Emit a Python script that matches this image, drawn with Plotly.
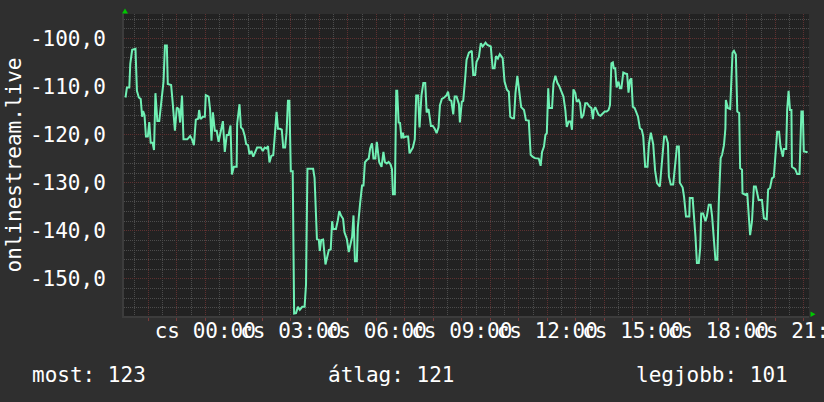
import plotly.graph_objects as go

# ---- data (time in minutes relative to 00:00, value in dB-like units) ----
minutes = [
    -168, -165, -160, -158, -154, -147, -144, -140, -136, -133, -131, -128, -125, -121, -118, -115, -111, -108,
    -105, -101, -97, -93, -88, -85, -81, -79, -72, -69, -64, -60, -56, -53, -49, -46, -38, -32, -28, -24, -20,
    -15, -13, -10, -5, -1, 1, 7, 10, 13, 16, 20, 24, 28, 32, 37, 41, 45, 49, 53, 56, 60, 66,
    67, 72, 75, 79, 83, 86, 90, 93, 97, 101, 105, 109, 117, 121, 125, 129, 132, 135, 139, 143, 146, 150, 153,
    157, 161, 164, 168, 171, 174, 177, 180, 184, 187, 191, 195, 199, 204, 209, 212, 215, 227, 230, 235, 239,
    241, 244, 248, 253, 257, 260, 264, 267, 269, 275, 279, 282, 286, 290, 293, 298, 302,
    309, 312, 315, 319, 321, 326, 330, 333, 336, 340, 344, 347, 351, 354, 358, 361, 364, 366, 371, 375, 378,
    382, 386, 390, 393, 395, 399, 402, 404, 407, 410, 413, 416, 418, 423, 427, 430, 434, 437, 441, 444, 448,
    451, 455, 459, 463, 466, 470, 475, 479, 483, 487, 491, 494, 498, 503, 508, 511, 514, 518, 522, 525, 529,
    534, 536, 540, 543, 547,
    550, 555, 561, 564, 568, 571, 576, 580, 584, 590, 594, 601, 605, 609, 612, 616, 620, 626, 630, 635, 639,
    642, 646, 650, 653, 657, 661, 665, 671, 675, 681, 685, 689, 694, 702, 706, 709, 713, 716, 719, 722, 724,
    730, 733, 737, 741, 745, 750, 754, 758, 761, 765, 769, 772, 775, 779, 782, 786, 789, 792, 796, 800, 804,
    808, 813, 816, 818, 821, 824, 828, 832, 837, 841, 845, 849, 852, 855, 858, 860, 863, 866, 870, 873, 876,
    880, 884, 888, 891, 894, 897, 900, 904, 908, 911, 915, 919, 922, 926, 931, 934, 938, 943, 947, 951, 957,
    962, 966, 970, 974, 976, 980, 985, 990, 993, 997, 999, 1005, 1008, 1012, 1019, 1020, 1026, 1032, 1035,
    1039, 1042, 1044, 1048, 1053, 1056, 1060, 1064, 1067, 1071, 1074, 1078, 1081, 1085, 1088, 1092, 1095,
    1096, 1100, 1105, 1107, 1110, 1113, 1117, 1120, 1124, 1126, 1130, 1131, 1137, 1141, 1144, 1147, 1151,
    1155, 1159, 1165, 1172, 1176, 1182, 1185, 1189, 1193, 1197, 1200, 1202, 1204, 1208, 1211, 1216, 1218,
    1223, 1225, 1228, 1231, 1234, 1235, 1242, 1246, 1251, 1252, 1255, 1258, 1260, 1266, 1268,
]
values = [
    -112.3, -110.2, -110.2, -105.3, -102.4, -102.2, -110.9, -112.3, -112.6, -116.3, -115.1, -116.0, -120.4,
    -120.4, -117.4, -121.7, -121.7, -123.2, -111.4, -117.2, -117.2, -114.0, -109.0, -101.5, -101.5, -109.5,
    -109.7, -113.0, -119.2, -114.4, -114.7, -117.5, -111.9, -121.0, -121.0, -120.3, -121.0, -122.2, -116.9,
    -116.7, -114.9, -116.8, -116.3, -116.3, -111.8, -112.1, -114.7, -121.3, -115.4, -119.2, -119.2, -121.5,
    -119.2, -117.2, -123.6, -120.1, -120.1, -118.1, -128.3, -126.7, -126.7,
    -117.8, -113.7, -118.5, -118.9, -120.3, -122.0, -122.2, -124.1, -123.4, -124.6, -123.8, -122.7, -122.7,
    -123.4, -122.7, -122.9, -122.4, -125.8, -124.4, -124.3, -120.6, -115.3, -118.8, -118.8, -119.0, -122.7,
    -122.7, -119.6, -113.0, -113.0, -127.6, -127.6, -157.2, -157.1, -155.8, -156.4, -155.8, -155.8, -151.2,
    -127.1, -127.1, -129.0, -141.7, -141.9, -144.2, -141.9, -141.8, -147.0, -145.3, -144.0, -143.9, -138.0,
    -139.6, -139.6, -137.8, -135.9, -136.9, -137.5, -140.3, -141.7, -144.4,
    -141.3, -136.8, -146.3, -146.3, -139.4, -134.2, -130.6, -130.6, -125.8, -125.3, -125.0, -122.9, -121.8,
    -125.0, -125.0, -121.5, -123.8, -125.7, -126.7, -123.6, -125.7, -126.0, -125.7, -126.2, -127.2, -132.4,
    -132.4, -110.9, -110.9, -117.5, -117.6, -120.8, -119.6, -120.6, -120.4, -120.4, -123.9, -123.2, -122.7,
    -121.0, -111.9, -111.9, -118.5, -111.9, -109.3, -109.3, -115.4, -114.7, -118.2, -118.2, -118.8, -119.7,
    -118.5, -113.9, -112.6, -112.3, -111.8, -111.1, -112.8, -113.0, -115.8, -112.1, -112.1, -113.7, -117.5,
    -113.2, -113.0, -108.5,
    -104.5, -103.0, -102.6, -107.6, -107.6, -104.9, -103.9, -101.0, -101.7, -100.9, -101.4, -101.7, -106.2,
    -106.2, -103.7, -104.2, -103.3, -104.1, -109.0, -110.7, -111.1, -116.3, -116.6, -116.6, -111.4, -107.8,
    -111.8, -114.3, -114.9, -117.0, -117.1, -124.2, -124.6, -124.9, -125.0, -126.5, -123.6, -122.5, -120.1,
    -119.7, -110.4, -114.5, -114.5, -109.4, -107.8, -109.2, -109.9, -111.1, -112.1, -114.9, -118.4, -117.3,
    -117.3, -119.0, -110.6, -111.4, -113.2, -112.8, -113.5, -116.6, -115.9, -113.5, -113.5, -114.1, -114.5,
    -116.8, -114.9, -114.3, -115.2, -115.9, -116.1, -115.6, -115.2, -115.2, -114.9, -113.9, -105.2, -105.0,
    -106.2, -106.2, -110.2, -109.0, -110.4, -110.4, -107.1, -107.3, -107.4, -111.3, -108.7, -108.3, -114.2,
    -114.5, -115.6, -116.3, -118.7, -119.0, -120.4, -126.7, -126.7, -122.0, -119.6, -122.0, -127.5, -130.1,
    -130.8, -125.0, -120.4, -120.4, -121.8, -128.7, -130.4, -130.4, -125.9, -122.5, -122.5, -130.0, -131.0,
    -133.0, -137.0, -137.0, -133.2, -133.2, -141.2, -146.7, -146.7, -143.5, -136.4, -136.4, -138.0, -137.0,
    -134.6, -134.6, -137.0, -142.5, -146.0, -146.0, -134.3, -124.9, -124.2, -122.2, -118.7, -112.8, -114.5,
    -114.7, -108.7, -103.0, -102.6, -103.4, -115.2, -115.5, -127.0, -127.3, -132.2, -132.5, -132.2, -136.7,
    -140.9, -138.0, -130.8, -130.8, -133.6, -133.6, -137.4, -137.6, -131.4, -131.1, -129.1, -128.8, -124.6,
    -121.8, -119.4, -119.4, -122.5, -124.6, -123.0, -123.0, -114.9, -110.9, -114.9, -114.9, -126.7, -127.2,
    -128.2, -128.2, -123.8, -115.2, -115.2, -123.5, -123.6, -123.6,
]

series_name = "onlinestream.live"
label_hours = [0, 3, 6, 9, 12, 15, 18, 21]
label_texts = ["cs 00:00", "cs 03:00", "cs 06:00", "cs 09:00", "cs 12:00", "cs 15:00", "cs 18:00", "cs 21:00"]
y_ticks = [-100, -110, -120, -130, -140, -150]
y_labels = ["-100,0", "-110,0", "-120,0", "-130,0", "-140,0", "-150,0"]
stat_names = ["most", "átlag", "legjobb"]
stat_values = [123, 121, 101]

x_range_min = [-171.2, 1271.0]
y_range = [-157.7, -94.95]

# ---- styling ----
FONT = "DejaVu Sans Mono"
PAPER = "#2f2f2f"
PLOT = "#222222"
GRID_MAJOR = "#5e3131"
GRID_MINOR = "#4c4c4c"
LINE = "#70f0b4"
ARROW = "#00c800"
DASH = "1px,1px"

hours = [m / 60 for m in minutes]
hour_ticks = list(range(-2, 22))
hour_text = [label_texts[label_hours.index(h)] if h in label_hours else "" for h in hour_ticks]

fig = go.Figure()
fig.add_trace(go.Scatter(x=hours, y=values, mode="lines", name=series_name,
                         line=dict(color=LINE, width=2), hoverinfo="skip"))

fig.update_layout(
    width=824, height=402,
    margin=dict(l=124, r=15, t=14, b=86, pad=0, autoexpand=False),
    paper_bgcolor=PAPER, plot_bgcolor=PLOT,
    showlegend=False,
    font=dict(family=FONT, size=21, color="#ffffff"),
    xaxis=dict(
        range=[x_range_min[0] / 60, x_range_min[1] / 60],
        tickmode="array", tickvals=hour_ticks, ticktext=hour_text,
        showgrid=True, gridcolor=GRID_MAJOR, griddash=DASH, gridwidth=1,
        minor=dict(tickmode="linear", tick0=0, dtick=0.5, showgrid=True,
                   gridcolor=GRID_MINOR, griddash=DASH, gridwidth=1),
        ticks="outside", ticklen=3, tickcolor="#7a3a3a", tickwidth=1,
        tickangle=0, ticklabeloverflow="allow", ticklabelstandoff=-8,
        automargin=False,
        zeroline=False, showline=True, linecolor="#3c3c3c", linewidth=2,
        tickfont=dict(family=FONT, size=21, color="#ffffff"),
        fixedrange=True,
    ),
    yaxis=dict(
        range=y_range,
        tickmode="array", tickvals=y_ticks, ticktext=y_labels,
        showgrid=True, gridcolor=GRID_MAJOR, griddash=DASH, gridwidth=1,
        minor=dict(tickmode="linear", tick0=-100, dtick=2, showgrid=True,
                   gridcolor=GRID_MINOR, griddash=DASH, gridwidth=1),
        ticks="", ticklabelstandoff=12,
        automargin=False,
        zeroline=False, showline=True, linecolor="#3c3c3c", linewidth=2,
        tickfont=dict(family=FONT, size=21, color="#ffffff"),
        fixedrange=True,
    ),
)

# y-axis title
fig.add_annotation(text=series_name, xref="paper", yref="paper", x=-0.1613, y=0.5,
                   xanchor="center", yanchor="middle", textangle=-90, showarrow=False,
                   font=dict(family=FONT, size=21, color="#ffffff"))

# summary line at the bottom
stat_x = [-0.1372, 0.2949, 0.7445]
for name, val, sx in zip(stat_names, stat_values, stat_x):
    fig.add_annotation(text=f"{name}: {val}", xref="paper", yref="paper", x=sx, y=-0.1954,
                       xanchor="left", yanchor="middle", showarrow=False,
                       font=dict(family=FONT, size=21, color="#ffffff"))

# axis arrows
fig.add_shape(type="path", xref="paper", yref="paper",
              path="M -0.00292,1.00166 L 0.00584,1.00166 L 0.00146,1.01821 Z",
              fillcolor=ARROW, line=dict(width=0))
fig.add_shape(type="path", xref="paper", yref="paper",
              path="M 1.00219,0.0149 L 1.00219,-0.00331 L 1.00949,0.00596 Z",
              fillcolor=ARROW, line=dict(width=0))

fig.write_html("out.html", config={"displayModeBar": False},
               post_script="document.body.style.margin='0';")
